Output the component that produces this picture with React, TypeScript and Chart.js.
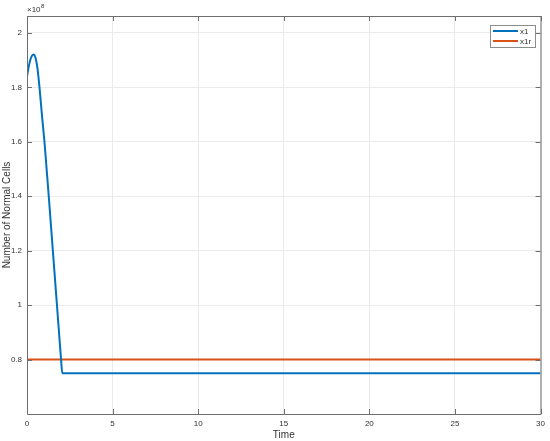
import React, { useEffect, useRef } from "react";
import { Chart, registerables } from "chart.js";

Chart.register(...registerables);

const timeX1 = [0, 0.1, 0.2, 0.3, 0.39, 0.5, 0.6, 0.73, 0.87, 1.02, 1.27, 1.51, 1.75, 1.99, 2.06, 30];
const valuesX1 = [1.84, 1.876, 1.902, 1.917, 1.921, 1.908, 1.875, 1.8, 1.7, 1.6, 1.4, 1.2, 1.0, 0.8, 0.75, 0.75];
const timeX1r = [0, 30];
const valuesX1r = [0.8, 0.8];
const yTickValues = [0.8, 1, 1.2, 1.4, 1.6, 1.8, 2];
const xTickValues = [0, 5, 10, 15, 20, 25, 30];
const seriesLabels = ["x1", "x1r"];
const seriesColors = ["#0072BD", "#D95319"];

const FONT = "'Liberation Sans', Arial, sans-serif";
const AXIS_COLOR = "#6e6e6e";
const TEXT_COLOR = "#333333";

const decorPlugin = {
  id: "matlabDecor",
  afterDraw(chart: any) {
    const ctx = chart.ctx;
    const { left, right, top, bottom } = chart.chartArea;
    const xs = chart.scales.x;
    const ys = chart.scales.y;
    ctx.save();
    ctx.strokeStyle = AXIS_COLOR;
    ctx.lineWidth = 1;
    ctx.beginPath();
    ctx.moveTo(left + 0.5, top + 0.5);
    ctx.lineTo(right + 0.5, top + 0.5);
    ctx.lineTo(right + 0.5, bottom + 0.5);
    ctx.lineTo(left + 0.5, bottom + 0.5);
    ctx.closePath();
    ctx.stroke();
    const tl = 5;
    ctx.beginPath();
    xTickValues.forEach((v) => {
      const px = Math.round(xs.getPixelForValue(v)) + 0.5;
      ctx.moveTo(px, bottom);
      ctx.lineTo(px, bottom - tl);
      ctx.moveTo(px, top);
      ctx.lineTo(px, top + tl);
    });
    yTickValues.forEach((v) => {
      const py = Math.round(ys.getPixelForValue(v)) + 0.5;
      ctx.moveTo(left, py);
      ctx.lineTo(left + tl, py);
      ctx.moveTo(right, py);
      ctx.lineTo(right - tl, py);
    });
    ctx.stroke();
    ctx.fillStyle = TEXT_COLOR;
    ctx.textBaseline = "alphabetic";
    ctx.textAlign = "left";
    ctx.font = `8px ${FONT}`;
    ctx.fillText("×10", left, top - 4);
    const w = ctx.measureText("×10").width;
    ctx.font = `6px ${FONT}`;
    ctx.fillText("8", left + w + 0.5, top - 8);
    const lx = 490, ly = 25, lw = 45, lh = 22;
    ctx.fillStyle = "#ffffff";
    ctx.fillRect(lx, ly, lw, lh);
    ctx.strokeStyle = "#8c8c8c";
    ctx.lineWidth = 1;
    ctx.strokeRect(lx + 0.5, ly + 0.5, lw, lh);
    seriesLabels.forEach((lab, i) => {
      const yy = ly + 6 + i * 10;
      ctx.strokeStyle = seriesColors[i];
      ctx.lineWidth = 2;
      ctx.beginPath();
      ctx.moveTo(lx + 3, yy);
      ctx.lineTo(lx + 28, yy);
      ctx.stroke();
      ctx.fillStyle = TEXT_COLOR;
      ctx.font = `8px ${FONT}`;
      ctx.textBaseline = "middle";
      ctx.fillText(lab, lx + 30, yy + 0.5);
    });
    ctx.restore();
  },
};

export default function App() {
  const ref = useRef<HTMLCanvasElement | null>(null);
  useEffect(() => {
    if (!ref.current) return;
    const chart = new Chart(ref.current, {
      type: "line",
      data: {
        datasets: [
          {
            label: seriesLabels[0],
            data: timeX1.map((t, i) => ({ x: t, y: valuesX1[i] })),
            borderColor: seriesColors[0],
            borderWidth: 2,
            pointRadius: 0,
            cubicInterpolationMode: "monotone",
            fill: false,
          },
          {
            label: seriesLabels[1],
            data: timeX1r.map((t, i) => ({ x: t, y: valuesX1r[i] })),
            borderColor: seriesColors[1],
            borderWidth: 2,
            pointRadius: 0,
            fill: false,
          },
        ],
      },
      options: {
        animation: false,
        responsive: false,
        maintainAspectRatio: false,
        layout: { padding: { top: 16, right: 9, left: 0, bottom: 0 } },
        plugins: {
          legend: { display: false },
          tooltip: { enabled: false },
        },
        scales: {
          x: {
            type: "linear",
            min: 0,
            max: 30,
            afterBuildTicks: (s: any) => {
              s.ticks = xTickValues.map((v) => ({ value: v }));
            },
            afterFit: (s: any) => {
              s.height = 27;
            },
            ticks: {
              color: TEXT_COLOR,
              font: { family: FONT, size: 8 },
              padding: 5,
              maxRotation: 0,
            },
            grid: { color: "#ebebeb", drawTicks: false },
            border: { display: false },
            title: {
              display: true,
              text: "Time",
              color: TEXT_COLOR,
              font: { family: FONT, size: 10 },
              padding: { top: 0, bottom: 0 },
            },
          },
          y: {
            type: "linear",
            min: 0.6,
            max: 2.062,
            afterBuildTicks: (s: any) => {
              s.ticks = yTickValues.map((v) => ({ value: v }));
            },
            afterFit: (s: any) => {
              s.width = 27;
            },
            ticks: {
              color: TEXT_COLOR,
              font: { family: FONT, size: 8 },
              padding: 5,
              callback: (v: any) => String(Math.round(Number(v) * 10) / 10),
            },
            grid: { color: "#ebebeb", drawTicks: false },
            border: { display: false },
            title: {
              display: true,
              text: "Number of Normal Cells",
              color: TEXT_COLOR,
              font: { family: FONT, size: 10 },
              padding: { top: 1, bottom: 0 },
            },
          },
        },
      },
      plugins: [decorPlugin],
    } as any);
    return () => chart.destroy();
  }, []);
  return (
    <div style={{ position: "fixed", left: 0, top: 0, width: 550, height: 441, background: "#fff" }}>
      <canvas ref={ref} width={550} height={441} style={{ display: "block" }} />
    </div>
  );
}
